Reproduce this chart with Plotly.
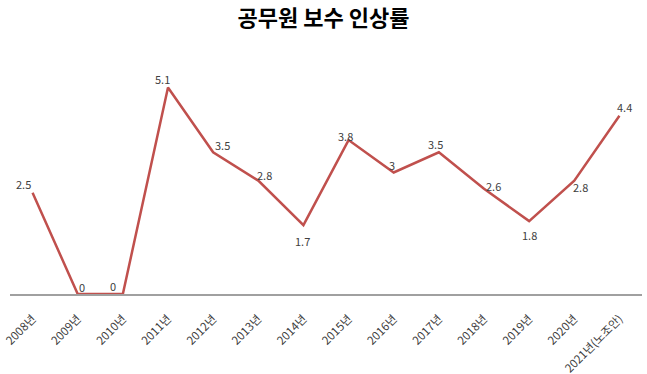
import plotly.graph_objects as go

categories = ["2008년", "2009년", "2010년", "2011년", "2012년", "2013년", "2014년",
              "2015년", "2016년", "2017년", "2018년", "2019년", "2020년", "2021년(노조안)"]
values = [2.5, 0, 0, 5.1, 3.5, 2.8, 1.7, 3.8, 3, 3.5, 2.6, 1.8, 2.8, 4.4]
value_labels = ["2.5", "0", "0", "5.1", "3.5", "2.8", "1.7", "3.8", "3", "3.5", "2.6", "1.8", "2.8", "4.4"]

# label offsets (px) relative to each point: style only
label_dx = [-9, 4, -10, -6, 9, 6, -1, -3, -2, -3, 9, 0, 6, 5]
label_dy = [9, 7, 8, 8, 7, 6, -16, 4, 8, 8, 3, -14, -6, 9]

FONT = "Noto Sans CJK KR"

fig = go.Figure()
fig.add_trace(go.Scatter(
    x=categories, y=values, mode="lines",
    line=dict(color="#C0504D", width=2.5),
    hoverinfo="x+y",
))

for c, v, t, dx, dy in zip(categories, values, value_labels, label_dx, label_dy):
    fig.add_annotation(x=c, y=v, text=t, showarrow=False,
                       xshift=dx, yshift=dy,
                       font=dict(family=FONT, size=11, color="#404040"))

fig.update_layout(
    width=647, height=374,
    margin=dict(l=10, r=5, t=51, b=80, autoexpand=False),
    paper_bgcolor="white", plot_bgcolor="white",
    showlegend=False,
    title=dict(text="<b>공무원 보수 인상률</b>", x=0.5, xanchor="center",
               y=0.95, yanchor="middle",
               font=dict(family=FONT, size=22, color="#000000")),
    font=dict(family=FONT),
)
fig.update_xaxes(
    type="category", range=[-0.5, len(categories) - 0.5],
    showgrid=False, zeroline=False, automargin=False,
    showline=True, linecolor="#A0A0A0", linewidth=1.5,
    tickangle=-45, ticks="outside", ticklen=12, tickcolor="rgba(0,0,0,0)",
    tickfont=dict(family=FONT, size=11.5, color="#404040"),
)
fig.update_yaxes(range=[0, 6], visible=False, showgrid=False, zeroline=False,
                 automargin=False)

fig.write_html("out.html", config={"displayModeBar": False},
               post_script="document.body.style.margin='0';document.body.style.overflow='hidden';")
